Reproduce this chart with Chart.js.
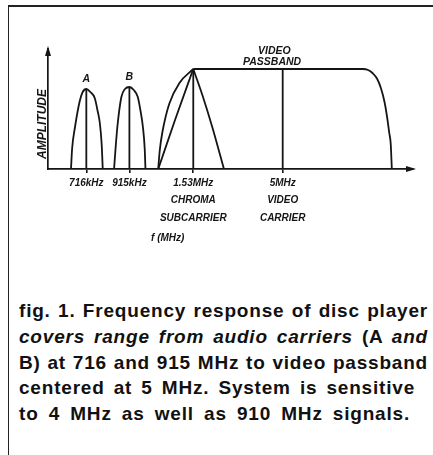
<!DOCTYPE html>
<html>
<head>
<meta charset="utf-8">
<script src="https://cdn.jsdelivr.net/npm/chart.js@4"></script>
<style>
  html, body { margin: 0; padding: 0; background: #fff; }
  body { width: 433px; height: 455px; position: relative; overflow: hidden; }
  #frame {
    position: absolute; left: 8px; top: 5px; right: -4px; bottom: -4px;
    border-top: 2px solid #222; border-left: 1.5px solid #222;
  }
  #plot { position: absolute; left: 0; top: 0; width: 433px; height: 250px; }
  #caption {
    position: absolute; left: 19px; top: 298px;
    font-family: 'Liberation Sans', Arial, sans-serif; font-weight: bold;
    font-size: 19px; line-height: 25.8px; letter-spacing: 0.8px; color: #111;
  }
  #caption div { white-space: nowrap; text-align: justify; text-align-last: justify; }
</style>
</head>
<body>
<div id="frame"></div>
<div id="plot"><canvas id="chart" width="433" height="250"></canvas></div>
<div id="caption">
  <div style="width:409px">fig. 1. Frequency response of disc player</div>
  <div style="width:409px"><i>covers range from audio carriers</i> (A <i>and</i></div>
  <div style="width:409px">B) at 716 and 915 MHz to video passband</div>
  <div style="width:396px">centered at 5 MHz. System is sensitive</div>
  <div style="width:391px">to 4 MHz as well as 910 MHz signals.</div>
</div>
<script>
// carrier positions along the (schematic) frequency axis and their labels
var carrierPos = [10.5, 22.3, 39.8, 64.3];
var carrierLabels = [
  ['716kHz'],
  ['915kHz'],
  ['1.53MHz', 'CHROMA', 'SUBCARRIER'],
  ['5MHz', 'VIDEO', 'CARRIER']
];
var carrierHeights = [0.80, 0.82, 1.0, 1.0];

// response curves, [x, amplitude]
var audioA = [[6.3, 0], [6.6, 0.2], [7.4, 0.42], [8.7, 0.68], [9.5, 0.77], [10.5, 0.80],
  [11.6, 0.77], [12.8, 0.71], [13.6, 0.58], [14.2, 0.46], [14.7, 0.25], [15.0, 0]];
var audioB = [[18.1, 0], [18.5, 0.2], [19.0, 0.42], [20.1, 0.72], [21.1, 0.80], [22.3, 0.82],
  [23.5, 0.79], [24.6, 0.72], [25.4, 0.57], [26.0, 0.42], [26.5, 0.2], [26.7, 0]];
var chromaArc = [[30.2, 0], [30.6, 0.18], [31.3, 0.36], [33.2, 0.65], [36.0, 0.86], [39.8, 1.0]];
var chromaRise = [[30.2, 0], [34.8, 0.49], [39.8, 1.0]];
var chromaFall = [[39.8, 1.0], [42.2, 0.75], [45.0, 0.42], [48.2, 0]];
var passband = [[39.8, 1.0], [86.3, 1.0], [87.7, 0.99], [88.9, 0.96], [90.2, 0.90], [91.2, 0.81],
  [92.2, 0.67], [92.9, 0.52], [93.5, 0.36], [93.9, 0.25], [94.2, 0]];

var INK = '#151515';

function pts(list) {
  return list.map(function (p) { return { x: p[0], y: p[1] }; });
}

function curve(list) {
  return {
    data: pts(list),
    showLine: true,
    borderColor: INK,
    borderWidth: 1.8,
    pointRadius: 0,
    cubicInterpolationMode: 'monotone'
  };
}

var datasets = [audioA, audioB, chromaArc, chromaRise, chromaFall, passband].map(curve);
carrierPos.forEach(function (x, i) {
  var d = curve([[x, 0], [x, carrierHeights[i]]]);
  d.cubicInterpolationMode = 'default';
  datasets.push(d);
});

// text that sits inside the drawing, placed in data units
var notes = [
  { text: 'A', x: 10.5, y: 0.90, size: 10.5 },
  { text: 'B', x: 22.3, y: 0.92, size: 10.5 },
  { text: 'VIDEO', x: 62.0, y: 1.18, size: 10.5 },
  { text: 'PASSBAND', x: 61.4, y: 1.07, size: 10.5 },
  { text: 'f (MHz)', x: 32.8, y: -0.69, size: 10 },
  { text: 'AMPLITUDE', x: -1.4, y: 0.45, size: 12, rotate: true }
];

var annotate = {
  id: 'annotate',
  afterDraw: function (chart) {
    var ctx = chart.ctx, xs = chart.scales.x, ys = chart.scales.y, a = chart.chartArea;
    ctx.save();
    ctx.fillStyle = INK;
    ctx.strokeStyle = INK;
    // arrow heads on both axes
    ctx.beginPath();
    ctx.moveTo(a.left, a.top - 3);
    ctx.lineTo(a.left - 3, a.top + 7);
    ctx.lineTo(a.left + 3, a.top + 7);
    ctx.closePath();
    ctx.fill();
    ctx.beginPath();
    ctx.moveTo(a.right + 3, a.bottom);
    ctx.lineTo(a.right - 7, a.bottom - 3);
    ctx.lineTo(a.right - 7, a.bottom + 3);
    ctx.closePath();
    ctx.fill();

    ctx.textAlign = 'center';
    ctx.textBaseline = 'middle';
    notes.forEach(function (n) {
      var px = xs.getPixelForValue(n.x), py = ys.getPixelForValue(n.y);
      ctx.font = 'italic bold ' + n.size + 'px "Liberation Sans", Arial, sans-serif';
      ctx.save();
      ctx.translate(px, py);
      if (n.rotate) ctx.rotate(-Math.PI / 2);
      ctx.fillText(n.text, 0, 0);
      ctx.restore();
    });
    ctx.restore();
  }
};

new Chart(document.getElementById('chart'), {
  type: 'scatter',
  data: { datasets: datasets },
  options: {
    responsive: false,
    animation: false,
    layout: { padding: { left: 8, right: 20, top: 49, bottom: 21 } },
    plugins: { legend: { display: false }, tooltip: { enabled: false } },
    scales: {
      x: {
        type: 'linear',
        min: 0,
        max: 100,
        afterBuildTicks: function (scale) {
          scale.ticks = carrierPos.map(function (v) { return { value: v }; });
        },
        afterFit: function (scale) { scale.height = 60; },
        ticks: {
          autoSkip: false,
          maxRotation: 0,
          padding: 1,
          color: INK,
          font: { family: '"Liberation Sans", Arial, sans-serif', size: 10, style: 'italic', weight: 'bold', lineHeight: 1.75 },
          callback: function (value, index) { return carrierLabels[index]; }
        },
        grid: { display: true, drawOnChartArea: false, drawTicks: true, tickLength: 4, color: INK, lineWidth: 1.6 },
        border: { display: true, color: INK, width: 1.7 }
      },
      y: {
        min: 0,
        max: 1.2,
        afterFit: function (scale) { scale.width = 40; },
        ticks: { display: false },
        grid: { display: false },
        border: { display: true, color: INK, width: 1.7 }
      }
    }
  },
  plugins: [annotate]
});
</script>
</body>
</html>
